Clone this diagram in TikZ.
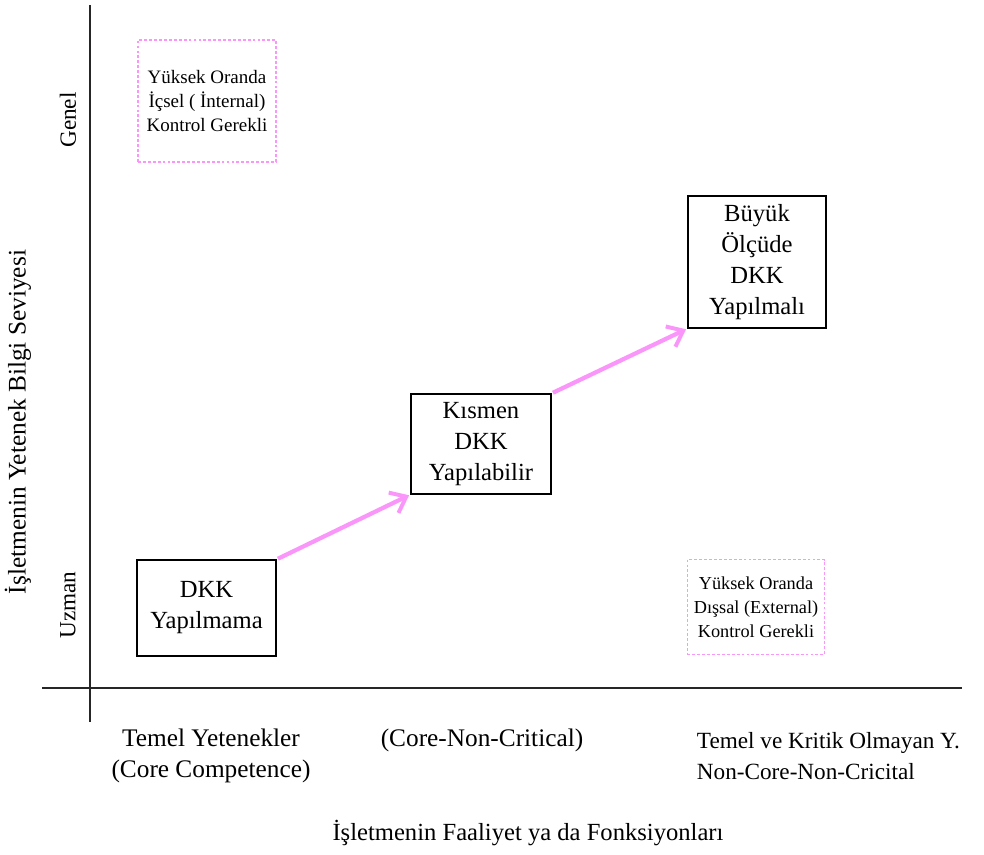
\documentclass[tikz,border=0pt]{standalone}
\usepackage{fontspec}
\setmainfont{Liberation Serif}
\usetikzlibrary{arrows.meta,positioning}
\definecolor{dkkpink}{RGB}{250,150,250}

\begin{document}
\begin{tikzpicture}[
    x=0.025cm, y=-0.025cm,
    font=\fontsize{17.5}{22}\selectfont,
    dkk_box/.style={draw=black, line width=0.9pt, align=center, inner sep=0pt, minimum width=139*0.025cm},
    ctrl_box/.style={draw=dkkpink, dash pattern=on 2pt off 1.5pt, line width=0.9pt, align=center, inner sep=0pt,
        minimum width=138*0.025cm, font=\fontsize{13.5}{17}\selectfont},
    axis_lbl/.style={font=\fontsize{18}{22}\selectfont, align=center},
    arrow/.style={-{Straight Barb[length=10pt, width=16pt, line width=2.8pt]}, line width=3pt, color=dkkpink, shorten <=1pt, shorten >=1pt}
]
\useasboundingbox (0,0) rectangle (984,854);

% AXES
\coordinate (yaxis_top) at (90,5);
\coordinate (yaxis_bot) at (90,722);
\coordinate (xaxis_left) at (42,688);
\coordinate (xaxis_right) at (962,688);
\draw[line width=0.8pt, black!85] (yaxis_top) -- (yaxis_bot);
\draw[line width=0.8pt, black!85] (xaxis_left) -- (xaxis_right);

% VERTICAL LABELS
\node[axis_lbl, font=\fontsize{16.5}{20}\selectfont, rotate=90] (genel) at (68,120) {Genel};
\node[axis_lbl, font=\fontsize{16.5}{20}\selectfont, rotate=90] (uzman) at (68,605) {Uzman};
\node[axis_lbl, rotate=90] (ylabel) at (18,422) {İşletmenin Yetenek Bilgi Seviyesi};

% HORIZONTAL LABELS
\node[axis_lbl] (core) at (211,756) {Temel Yetenekler\\(Core Competence)};
\node[axis_lbl] (corenc) at (482,740) {(Core-Non-Critical)};
\node[axis_lbl, font=\fontsize{16.5}{22}\selectfont, align=left, anchor=west] (noncore) at (692,756) {Temel ve Kritik Olmayan Y.\\Non-Core-Non-Cricital};
\node[axis_lbl, font=\fontsize{17.5}{22}\selectfont] (xlabel) at (528,833) {İşletmenin Faaliyet ya da Fonksiyonları};

% CONTROL BOXES
\node[ctrl_box, minimum height=122*0.025cm] (internal) at (207,101) {Yüksek Oranda\\İçsel ( İnternal)\\Kontrol Gerekli};
\node[ctrl_box, font=\fontsize{13}{17}\selectfont, minimum width=137*0.025cm, minimum height=95*0.025cm] (external) at (756,607) {Yüksek Oranda\\Dışsal (External)\\Kontrol Gerekli};

% DKK BOXES
\node[dkk_box, minimum height=96*0.025cm] (none) at (206.5,608) {DKK\\Yapılmama};
\node[dkk_box, minimum width=140*0.025cm, minimum height=100*0.025cm] (partial) at (481,444) {Kısmen\\DKK\\Yapılabilir};
\node[dkk_box, minimum width=138*0.025cm, minimum height=132*0.025cm] (large) at (757,262) {Büyük\\Ölçüde\\DKK\\Yapılmalı};

% ARROWS
\draw[arrow] (none.north east) -- (partial.south west);
\draw[arrow] (partial.north east) -- (large.south west);

\end{tikzpicture}
\end{document}
